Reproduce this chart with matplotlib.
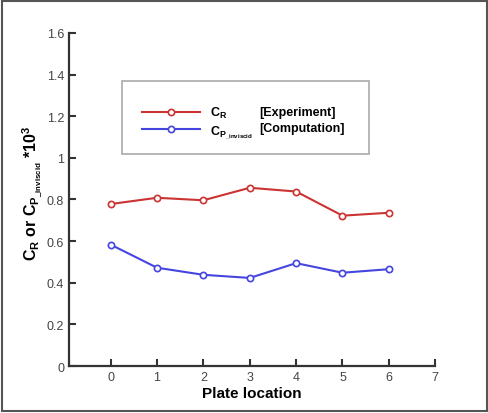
import matplotlib.pyplot as plt
from matplotlib.patches import Rectangle

plt.rcParams["font.family"] = ["Liberation Sans", "DejaVu Sans"]

# plate locations and coefficients (*10^3)
plate = [0, 1, 2, 3, 4, 5, 6]
cr_exp = [0.778, 0.808, 0.796, 0.856, 0.838, 0.722, 0.736]
cp_comp = [0.583, 0.472, 0.438, 0.423, 0.494, 0.448, 0.465]

xticks = [0, 1, 2, 3, 4, 5, 6, 7]
yticks = [0, 0.2, 0.4, 0.6, 0.8, 1.0, 1.2, 1.4, 1.6]

cp_label = r"C$_{\mathregular{P}_{\mathregular{\_inviscid}}}$"

fig = plt.figure(figsize=(4.89, 4.14), dpi=100)
ax = fig.add_axes([0.141, 0.1135, 0.749, 0.8047])

style = dict(lw=1.5, marker="o", ms=4.5, mfc="white", mew=1.2)
l1, = ax.plot(plate, cr_exp, color="#cc3333", **style)
l2, = ax.plot(plate, cp_comp, color="#4545e0", **style)

ax.set_xlim(-0.9, 7)
ax.set_ylim(0, 1.6)
ax.set_xticks(xticks)
ax.set_yticks(yticks)
ax.yaxis.set_major_formatter(lambda v, p: f"{v:g}")

for s in ["top", "right"]:
    ax.spines[s].set_visible(False)
for s in ["left", "bottom"]:
    ax.spines[s].set_color("#333333")
    ax.spines[s].set_linewidth(1.6)
ax.tick_params(direction="in", length=5, width=1.5, color="#333333",
               labelsize=9, labelcolor="#444444")

ax.set_xlabel("Plate location", fontsize=11, fontweight="bold", labelpad=2)
ax.set_ylabel(r"C$_\mathregular{R}$ or " + cp_label + r" *10$^\mathregular{3}$",
              fontsize=11.5, fontweight="bold")
ax.yaxis.set_label_coords(-0.065, 0.52)

# legend
fig.add_artist(Rectangle((122 / 489, 1 - 155 / 414), 247 / 489, 73 / 414,
                         transform=fig.transFigure, fill=False,
                         edgecolor="#aaaaaa", lw=1.2))
fig.legend([l1, l2], [r"C$_\mathregular{R}$", cp_label],
           loc="upper left", bbox_to_anchor=(142 / 489, 1 - 106 / 414),
           frameon=False, prop={"weight": "bold", "size": 9},
           handlelength=4.6, handletextpad=0.85, labelspacing=0.25,
           borderpad=0, borderaxespad=0)
fig.text(259 / 489, 1 - 113 / 414, "[Experiment]", va="center",
         fontsize=9, fontweight="bold")
fig.text(259 / 489, 1 - 129 / 414, "[Computation]", va="center",
         fontsize=9, fontweight="bold")

# outer frame
fig.add_artist(Rectangle((0.004, 0.004), 0.992, 0.992, transform=fig.transFigure,
                         fill=False, edgecolor="#555555", lw=1.5))

fig.savefig("out.png", dpi=100)
